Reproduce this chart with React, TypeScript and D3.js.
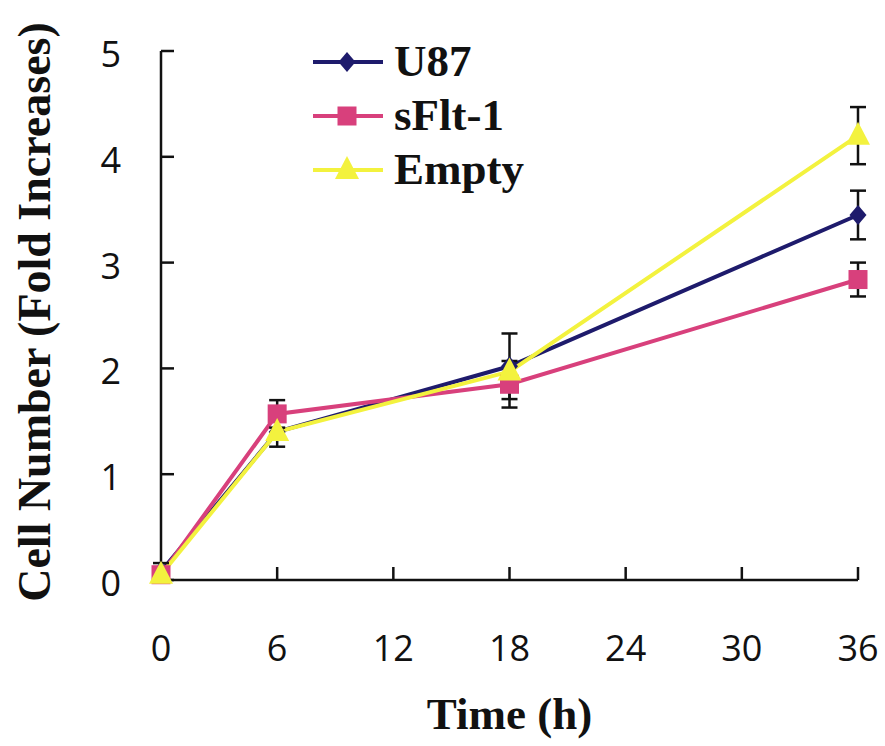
import React from "react";
import * as d3 from "d3";

const times = [0, 6, 18, 36];
const seriesNames = ["U87", "sFlt-1", "Empty"];
const u87Values = [0.08, 1.4, 2.02, 3.45];
const u87Errors = [0.08, 0.14, 0.31, 0.23];
const sflt1Values = [0.05, 1.57, 1.85, 2.84];
const sflt1Errors = [0.0, 0.13, 0.22, 0.16];
const emptyValues = [0.05, 1.4, 1.97, 4.2];
const emptyErrors = [0.0, 0.0, 0.0, 0.27];
const xTicks = [0, 6, 12, 18, 24, 30, 36];
const yTicks = [0, 1, 2, 3, 4, 5];
const xTitle = "Time (h)";
const yTitle = "Cell Number (Fold Increases)";

const colors = ["#1E1B6C", "#D8407C", "#F3F23E"];
const markers = ["diamond", "square", "triangle"];

function Marker({ kind, cx, cy, color }: { kind: string; cx: number; cy: number; color: string }) {
  if (kind === "diamond") {
    const p = d3.path();
    p.moveTo(cx, cy - 10);
    p.lineTo(cx + 8.5, cy);
    p.lineTo(cx, cy + 10);
    p.lineTo(cx - 8.5, cy);
    p.closePath();
    return <path d={p.toString()} fill={color} />;
  }
  if (kind === "square") {
    return <rect x={cx - 9.5} y={cy - 9.5} width={19} height={19} fill={color} />;
  }
  const p = d3.path();
  p.moveTo(cx, cy - 14);
  p.lineTo(cx + 12, cy + 9);
  p.lineTo(cx - 12, cy + 9);
  p.closePath();
  return <path d={p.toString()} fill={color} />;
}

export default function App() {
  const W = 885;
  const H = 746;
  const x = d3.scaleLinear().domain([0, 36]).range([161, 858]);
  const y = d3.scaleLinear().domain([0, 5]).range([580, 51]);

  const series = [
    { name: seriesNames[0], values: u87Values, errors: u87Errors },
    { name: seriesNames[1], values: sflt1Values, errors: sflt1Errors },
    { name: seriesNames[2], values: emptyValues, errors: emptyErrors },
  ];

  const line = d3
    .line<number>()
    .x((_, i) => x(times[i]))
    .y((v) => y(v));

  const tickFont = "'Open Sans', 'DejaVu Sans', sans-serif";
  const serif = "'Liberation Serif', 'Times New Roman', serif";

  return (
    <svg
      width={W}
      height={H}
      style={{ position: "absolute", left: 0, top: 0, background: "#fff" }}
    >
      <rect width={W} height={H} fill="#fff" />
      {/* axes */}
      <line x1={x(0)} x2={x(0)} y1={y(5)} y2={y(0)} stroke="#111" strokeWidth={2.5} />
      <line x1={x(0)} x2={x(36)} y1={y(0)} y2={y(0)} stroke="#111" strokeWidth={2.5} />
      {yTicks.map((t) => (
        <g key={"yt" + t}>
          <line x1={x(0)} x2={x(0) + 13} y1={y(t)} y2={y(t)} stroke="#111" strokeWidth={2.5} />
          <text
            x={121}
            y={y(t) + 16}
            textAnchor="end"
            fontFamily={tickFont}
            fontSize={36}
            fill="#111"
          >
            {t}
          </text>
        </g>
      ))}
      {xTicks.map((t) => (
        <g key={"xt" + t}>
          {t !== 0 && (
            <line x1={x(t)} x2={x(t)} y1={y(0)} y2={y(0) - 13} stroke="#111" strokeWidth={2.5} />
          )}
          <text
            x={x(t)}
            y={661}
            textAnchor="middle"
            fontFamily={tickFont}
            fontSize={36}
            fill="#111"
          >
            {t}
          </text>
        </g>
      ))}
      <text
        x={x(18)}
        y={729}
        textAnchor="middle"
        fontFamily={serif}
        fontWeight="bold"
        fontSize={45}
        fill="#111"
      >
        {xTitle}
      </text>
      <text
        transform={`translate(50, 312) rotate(-90)`}
        textAnchor="middle"
        fontFamily={serif}
        fontWeight="bold"
        fontSize={46}
        fill="#111"
      >
        {yTitle}
      </text>

      {/* lines */}
      {series.map((s, si) => (
        <path
          key={"l" + si}
          d={line(s.values) || ""}
          fill="none"
          stroke={colors[si]}
          strokeWidth={4}
        />
      ))}
      {/* error bars */}
      {series.map((s, si) =>
        s.values.map((v, i) => {
          const e = s.errors[i];
          if (!e) return null;
          const cx = x(times[i]);
          const top = y(v + e);
          const bot = y(v - e);
          return (
            <g key={"e" + si + "-" + i} stroke="#111" strokeWidth={2.5}>
              <line x1={cx} x2={cx} y1={top} y2={bot} />
              <line x1={cx - 8} x2={cx + 8} y1={top} y2={top} />
              <line x1={cx - 8} x2={cx + 8} y1={bot} y2={bot} />
            </g>
          );
        })
      )}
      {/* markers */}
      {series.map((s, si) =>
        s.values.map((v, i) => (
          <Marker key={"m" + si + "-" + i} kind={markers[si]} cx={x(times[i])} cy={y(v)} color={colors[si]} />
        ))
      )}

      {/* legend */}
      {series.map((s, si) => {
        const ly = 62 + si * 54;
        return (
          <g key={"lg" + si}>
            <line x1={313} x2={383} y1={ly} y2={ly} stroke={colors[si]} strokeWidth={4} />
            <Marker kind={markers[si]} cx={347} cy={ly} color={colors[si]} />
            <text
              x={394}
              y={ly + 14}
              fontFamily={serif}
              fontWeight="bold"
              fontSize={45}
              fill="#111"
            >
              {s.name}
            </text>
          </g>
        );
      })}
    </svg>
  );
}
